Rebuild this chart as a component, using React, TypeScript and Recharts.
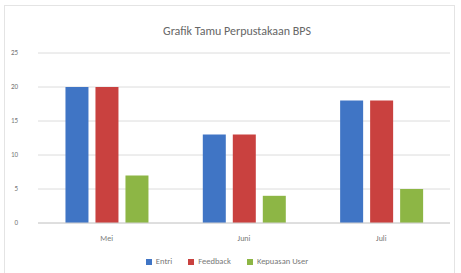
import { BarChart, Bar, XAxis, YAxis, CartesianGrid, Legend } from 'recharts';

const months = ['Mei', 'Juni', 'Juli'];
const entri = [20, 13, 18];
const feedback = [20, 13, 18];
const kepuasan = [7, 4, 5];
const yTicks = [0, 5, 10, 15, 20, 25];

const data = months.map((m, i) => ({
  month: m,
  entri: entri[i],
  feedback: feedback[i],
  kepuasan: kepuasan[i],
}));

const font = 'Calibri, Carlito, "Liberation Sans", Arial, sans-serif';

export default function App() {
  return (
    <div style={{ position: 'absolute', left: 0, top: 0, width: 461, height: 273, background: '#fff', overflow: 'hidden', fontFamily: font }}>
      <div
        style={{
          position: 'absolute',
          left: 4,
          top: 5,
          width: 451,
          height: 270,
          border: '1px solid #e4e4e4',
          boxSizing: 'border-box',
        }}
      />
      <div
        style={{
          position: 'absolute',
          left: 0,
          top: 24,
          width: 474,
          textAlign: 'center',
          fontSize: 12,
          color: '#666',
        }}
      >
        Grafik Tamu Perpustakaan BPS
      </div>
      <BarChart
        width={461}
        height={273}
        data={data}
        margin={{ top: 53, right: 11, bottom: 0, left: 0 }}
        barCategoryGap="20%"
        barGap={7}
        style={{ position: 'absolute', left: 0, top: 0 }}
      >
        <CartesianGrid vertical={false} stroke="#dcdcdc" />
        <XAxis
          dataKey="month"
          height={30}
          tickLine={false}
          axisLine={{ stroke: '#d0d0d0' }}
          tick={{ fontSize: 8, fill: '#777' }}
          tickMargin={6}
        />
        <YAxis
          width={38}
          domain={[0, 25]}
          ticks={yTicks}
          tickLine={false}
          axisLine={false}
          tick={{ fontSize: 7, fill: '#777' }}
          tickMargin={14}
        />
        <Legend
          verticalAlign="bottom"
          height={20}
          iconType="square"
          iconSize={6}
          wrapperStyle={{ fontSize: 8.5, color: '#777', top: 256, left: 0, width: 470 }}
          formatter={(v) => <span style={{ color: '#777', marginRight: 6 }}>{v}</span>}
        />
        <Bar dataKey="entri" name="Entri" fill="#4075c5" isAnimationActive={false} />
        <Bar dataKey="feedback" name="Feedback" fill="#c9413f" isAnimationActive={false} />
        <Bar dataKey="kepuasan" name="Kepuasan User" fill="#8db645" isAnimationActive={false} />
      </BarChart>
    </div>
  );
}
